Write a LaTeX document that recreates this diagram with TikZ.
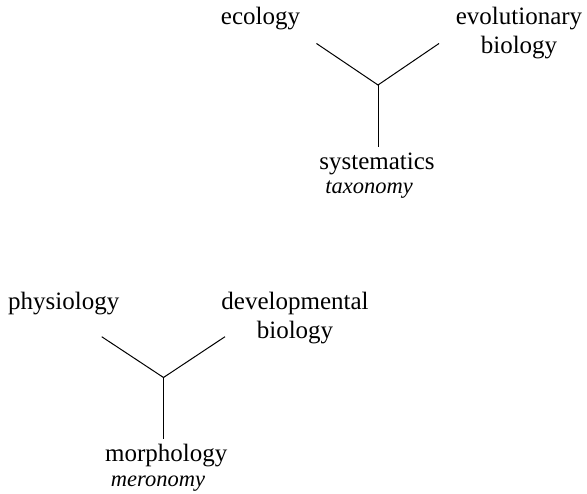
\documentclass[tikz,border=0pt]{standalone}
\usepackage{fontspec}
\setmainfont{Liberation Serif}
\begin{document}
\begin{tikzpicture}[x=1pt,y=-1pt,
  lbl/.style={anchor=base,inner sep=0pt,outer sep=0pt,font=\fontsize{25}{28.5}\selectfont,align=center},
  sub/.style={anchor=base,inner sep=0pt,outer sep=0pt,font=\fontsize{22.5}{26}\selectfont\itshape},
  branch/.style={draw=black,line width=1pt}]
\useasboundingbox (0,0) rectangle (587,494);
% top tree
\node[lbl] (ecology) at (260.5,25) {ecology};
\node[lbl] (evo) at (519,53.5) {evolutionary\\biology};
\node[lbl] (syst) at (377,170) {systematics};
\node[sub] (tax) at (369,194) {taxonomy};
\coordinate (tl) at (316.5,43.5);
\coordinate (tr) at (439,43.5);
\coordinate (tj) at (378,85);
\coordinate (tb) at (378,147);
\draw[branch] (tl) -- (tj) -- (tr);
\draw[branch] (tj) -- (tb);
% bottom tree
\node[lbl] (phys) at (63.7,310) {physiology};
\node[lbl] (dev) at (295,338.5) {developmental\\biology};
\node[lbl] (morph) at (166.3,461.7) {morphology};
\node[sub] (mer) at (158,486.7) {meronomy};
\coordinate (bl) at (101.7,336.7);
\coordinate (br) at (225,336.7);
\coordinate (bj) at (163.5,377.5);
\coordinate (bb) at (163.5,439);
\draw[branch] (bl) -- (bj) -- (br);
\draw[branch] (bj) -- (bb);
\end{tikzpicture}
\end{document}
